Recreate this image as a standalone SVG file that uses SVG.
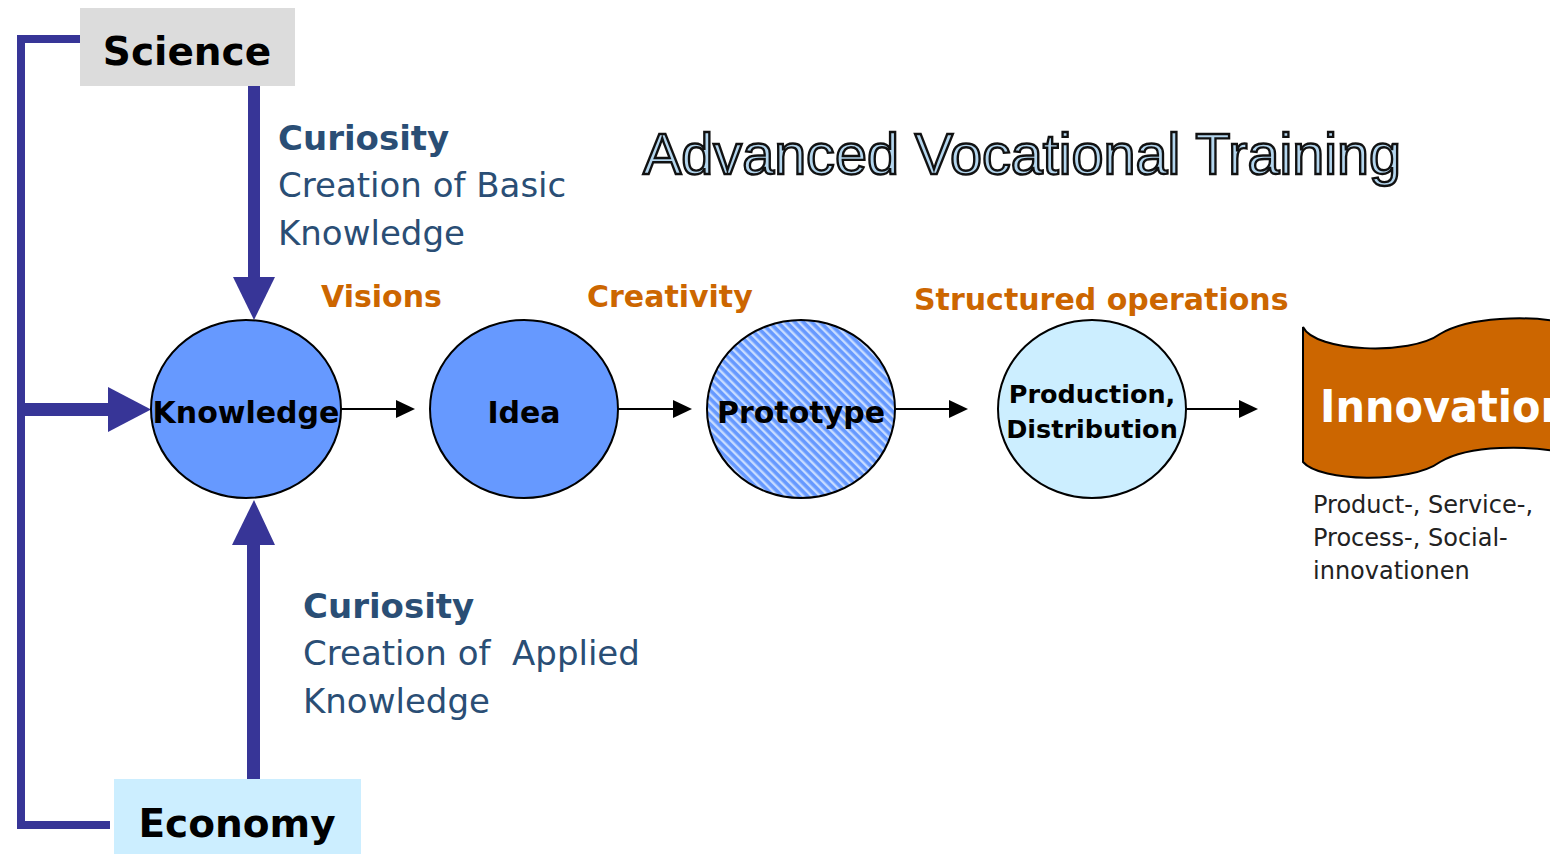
<svg xmlns="http://www.w3.org/2000/svg" width="1550" height="854" viewBox="0 0 1550 854">
<style>
.lbl{font-family:"DejaVu Sans",Verdana,sans-serif;font-weight:bold;fill:#000}
.cur{font-family:"DejaVu Sans",Verdana,sans-serif;font-size:34px;fill:#2a4e75}
.curb{font-weight:bold}
.org{font-family:"DejaVu Sans",Verdana,sans-serif;font-weight:bold;font-size:30px;fill:#cc6600}
.node{stroke:#000;stroke-width:2}
.blue{fill:#373597}
</style>
<defs>
<pattern id="hatch" patternUnits="userSpaceOnUse" width="6" height="6" patternTransform="rotate(-45)">
<rect width="6" height="6" fill="#6699ff"/>
<rect width="2.4" height="6" fill="#c8dcff"/>
</pattern>
</defs>
<rect width="1550" height="854" fill="#fff"/>

<g id="connectors">
<polyline points="80,39 21,39 21,825 110,825" fill="none" stroke="#373597" stroke-width="8"/>
<rect class="blue" x="21" y="403" width="90" height="13"/>
<path class="blue" d="M108,387 L151,409.5 L108,432 Z"/>
<rect class="blue" x="248" y="86" width="12" height="193"/>
<path class="blue" d="M233,277 L275,277 L254,320 Z"/>
<rect class="blue" x="247" y="543" width="13" height="237"/>
<path class="blue" d="M232,545 L275,545 L254,500 Z"/>
<g stroke="#000" stroke-width="2">
<line x1="341" y1="409" x2="398" y2="409"/>
<line x1="618" y1="409" x2="675" y2="409"/>
<line x1="895" y1="409" x2="951" y2="409"/>
<line x1="1186" y1="409" x2="1241" y2="409"/>
</g>
<g fill="#000">
<path d="M396,400 L415,409 L396,418 Z"/>
<path d="M673,400 L692,409 L673,418 Z"/>
<path d="M949,400 L968,409 L949,418 Z"/>
<path d="M1239,400 L1258,409 L1239,418 Z"/>
</g>
</g>

<g id="science">
<rect x="80" y="8" width="215" height="78" fill="#dcdcdc"/>
<text class="lbl" x="187" y="65" font-size="39" text-anchor="middle">Science</text>
</g>
<g id="economy">
<rect x="114" y="779" width="247" height="75" fill="#cceeff"/>
<text class="lbl" x="237" y="837" font-size="39" text-anchor="middle">Economy</text>
</g>

<g id="title">
<text x="643" y="174" font-family="'Liberation Sans',Arial,sans-serif" font-size="58" fill="#b4d6ee" stroke="#111" stroke-width="2.4" textLength="758" lengthAdjust="spacingAndGlyphs">Advanced Vocational Training</text>
</g>

<g id="curiosity-top">
<text class="cur" x="278" y="150"><tspan class="curb">Curiosity</tspan><tspan x="278" y="197">Creation of Basic</tspan><tspan x="278" y="245">Knowledge</tspan></text>
</g>
<g id="curiosity-bottom">
<text class="cur" x="303" y="618" xml:space="preserve"><tspan class="curb">Curiosity</tspan><tspan x="303" y="665">Creation of  Applied</tspan><tspan x="303" y="713">Knowledge</tspan></text>
</g>

<g id="stage-labels">
<text class="org" x="321" y="307">Visions</text>
<text class="org" x="587" y="307">Creativity</text>
<text class="org" x="914" y="310">Structured operations</text>
</g>

<g id="knowledge">
<ellipse class="node" cx="246" cy="409" rx="95" ry="89" fill="#6699ff"/>
<text class="lbl" x="246" y="423" font-size="30" text-anchor="middle">Knowledge</text>
</g>
<g id="idea">
<ellipse class="node" cx="524" cy="409" rx="94" ry="89" fill="#6699ff"/>
<text class="lbl" x="524" y="423" font-size="30" text-anchor="middle">Idea</text>
</g>
<g id="prototype">
<ellipse class="node" cx="801" cy="409" rx="94" ry="89" fill="url(#hatch)"/>
<text class="lbl" x="801" y="423" font-size="30" text-anchor="middle">Prototype</text>
</g>
<g id="production">
<ellipse class="node" cx="1092" cy="409" rx="94" ry="89" fill="#cceeff"/>
<text class="lbl" x="1092" y="403" font-size="25.5" text-anchor="middle">Production,</text>
<text class="lbl" x="1092" y="438" font-size="25.5" text-anchor="middle">Distribution</text>
</g>
<g id="innovation">
<path d="M1303,327 C1315,352 1410,356 1440,334 C1470,316 1530,316 1560,322 L1560,452 C1530,446 1470,444 1440,462 C1410,484 1320,482 1303,462 Z" fill="#cc6600" stroke="#000" stroke-width="2"/>
<text x="1320" y="422" font-family="'DejaVu Sans',Verdana,sans-serif" font-weight="bold" font-size="44" fill="#fff" textLength="250" lengthAdjust="spacingAndGlyphs">Innovation</text>
</g>
<g id="innovation-types">
<text font-family="'DejaVu Sans',Verdana,sans-serif" font-size="24" fill="#222"><tspan x="1313" y="513">Product-, Service-,</tspan><tspan x="1313" y="546">Process-, Social-</tspan><tspan x="1313" y="579">innovationen</tspan></text>
</g>
</svg>
